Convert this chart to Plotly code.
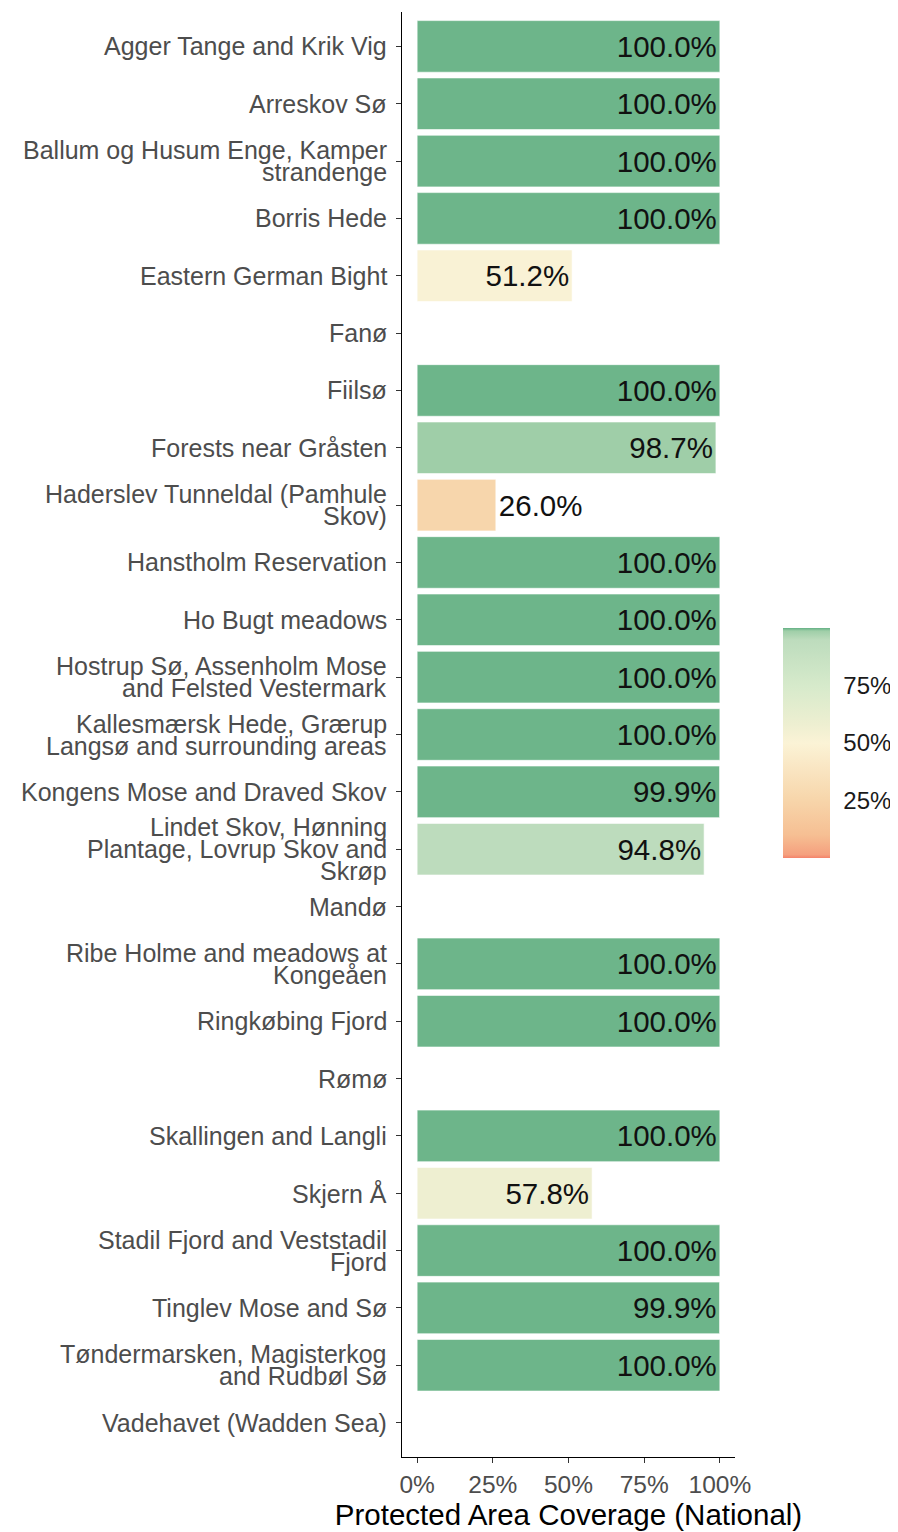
import plotly.graph_objects as go

categories = [
    "Agger Tange and Krik Vig",
    "Arreskov Sø",
    "Ballum og Husum Enge, Kamper\nstrandenge",
    "Borris Hede",
    "Eastern German Bight",
    "Fanø",
    "Fiilsø",
    "Forests near Gråsten",
    "Haderslev Tunneldal (Pamhule\nSkov)",
    "Hanstholm Reservation",
    "Ho Bugt meadows",
    "Hostrup Sø, Assenholm Mose\nand Felsted Vestermark",
    "Kallesmærsk Hede, Grærup\nLangsø and surrounding areas",
    "Kongens Mose and Draved Skov",
    "Lindet Skov, Hønning\nPlantage, Lovrup Skov and\nSkrøp",
    "Mandø",
    "Ribe Holme and meadows at\nKongeåen",
    "Ringkøbing Fjord",
    "Rømø",
    "Skallingen and Langli",
    "Skjern Å",
    "Stadil Fjord and Veststadil\nFjord",
    "Tinglev Mose and Sø",
    "Tøndermarsken, Magisterkog\nand Rudbøl Sø",
    "Vadehavet (Wadden Sea)",
]

coverage = [1.0, 1.0, 1.0, 1.0, 0.512, None, 1.0, 0.987, 0.26, 1.0,
            1.0, 1.0, 1.0, 0.999, 0.948, None, 1.0, 1.0, None, 1.0,
            0.578, 1.0, 0.999, 1.0, None]

x_ticks = [0, 0.25, 0.5, 0.75, 1.0]
legend_ticks = [0.25, 0.5, 0.75]

cat_keys = [c.replace("\n", " ") for c in categories]

colorscale = [
    [0.0, "#f4836a"], [0.015, "#f5a07e"], [0.1, "#f6bf93"],
    [0.25, "#f7d5aa"], [0.5, "#fbf3d6"], [0.578, "#eeefd1"],
    [0.75, "#d6eacb"], [0.948, "#bddcbd"], [0.987, "#9fcea8"],
    [0.998, "#6db58a"], [1.0, "#6db58a"],
]

FONT = "Liberation Sans, Arial, sans-serif"
W, H = 890, 1524  # page body adds an 8px margin

fig = go.Figure()
fig.add_trace(go.Bar(
    x=coverage,
    y=cat_keys,
    orientation="h",
    width=0.9,
    marker=dict(
        color=[v if v is not None else 0 for v in coverage],
        colorscale=colorscale, cmin=0, cmax=1,
        line=dict(color="rgba(255,255,255,0.6)", width=1),
        showscale=True,
        colorbar=dict(
            xref="container", x=775 / W, xanchor="left",
            yref="container", y=1 - 775 / H, yanchor="middle",
            len=230, lenmode="pixels", thickness=47,
            xpad=0, ypad=0,
            outlinewidth=0,
            tickvals=legend_ticks, tickformat=".0%",
            ticks="outside", ticklen=9, tickcolor="rgba(255,255,255,0)",
            tickwidth=1.5,
            tickfont=dict(family=FONT, size=24, color="#1a1a1a"),
        ),
    ),
    texttemplate="%{x:.1%}",
    textposition="auto",
    insidetextanchor="end",
    insidetextfont=dict(family=FONT, size=29.5, color="#111111"),
    outsidetextfont=dict(family=FONT, size=29.5, color="#111111"),
    cliponaxis=False,
    hoverinfo="skip",
))

annotations = []
spacing = 22
for key, lab in zip(cat_keys, categories):
    lines = lab.split("\n")
    n = len(lines)
    for i, ln in enumerate(lines):
        annotations.append(dict(
            x=0, xref="paper", y=key, yref="y",
            text=ln, showarrow=False, xanchor="right", yanchor="middle",
            xshift=-13, yshift=((n - 1) / 2 - i) * spacing,
            font=dict(family=FONT, size=25, color="#4d4d4d"),
        ))

fig.update_layout(
    width=W, height=H,
    margin=dict(l=394, r=163, t=4, b=75, autoexpand=False),
    plot_bgcolor="white", paper_bgcolor="white",
    showlegend=False,
    annotations=annotations,
    xaxis=dict(
        range=[-0.05, 1.05], tickvals=x_ticks, tickformat=".0%",
        showgrid=False, zeroline=False,
        showline=True, linecolor="black", linewidth=1.3,
        ticks="outside", ticklen=5, tickcolor="#333333", tickwidth=1.3,
        tickfont=dict(family=FONT, size=24.5, color="#4d4d4d"),
        title=dict(text="Protected Area Coverage (National)",
                   font=dict(family=FONT, size=29.5, color="black"),
                   standoff=2),
    ),
    yaxis=dict(
        type="category", categoryorder="array", categoryarray=cat_keys,
        range=[24.6, -0.6],
        showgrid=False, zeroline=False,
        showline=True, linecolor="black", linewidth=1.3,
        ticks="outside", ticklen=5, tickcolor="#333333", tickwidth=1.3,
        showticklabels=False,
    ),
)

fig.write_html("out.html")
